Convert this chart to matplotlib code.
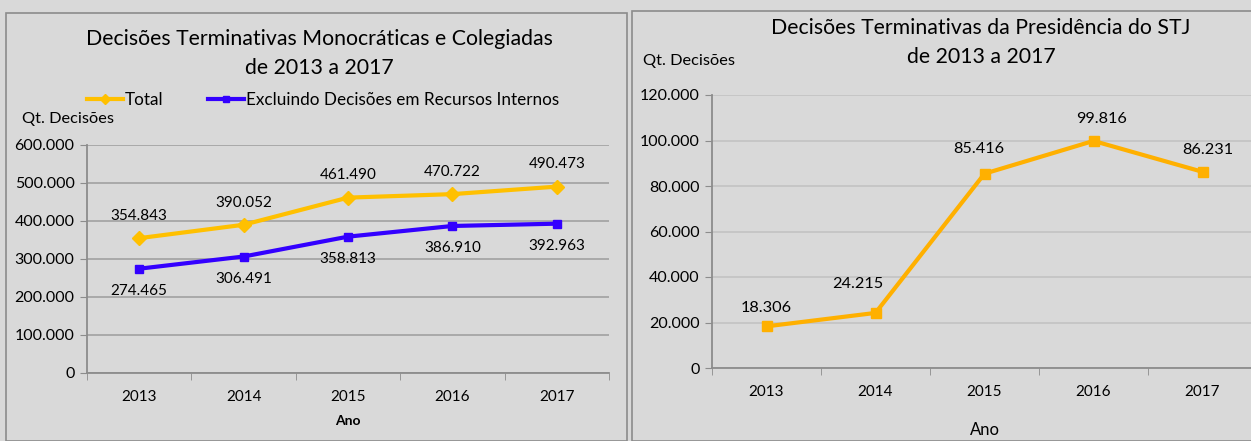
import matplotlib
matplotlib.use('Agg')
from matplotlib import pyplot as plt
from matplotlib.patches import Rectangle
from matplotlib.ticker import FuncFormatter

plt.rcParams['font.family'] = ['Lato', 'DejaVu Sans']

anos = ['2013', '2014', '2015', '2016', '2017']
total = [354843, 390052, 461490, 470722, 490473]
excluindo = [274465, 306491, 358813, 386910, 392963]
presidencia = [18306, 24215, 85416, 99816, 86231]

W, H = 1251, 441
bg = '#d9d9d9'
fig = plt.figure(figsize=(W / 100, H / 100), dpi=100, facecolor=bg)


def fmt(v, pos=None):
    return f'{int(v):,}'.replace(',', '.')


def px(x0, y0, x1, y1):
    # pixel box -> figure fraction [left, bottom, width, height]
    return [x0 / W, 1 - y1 / H, (x1 - x0) / W, (y1 - y0) / H]


# molduras dos dois paineis
fig.patches.append(Rectangle((6 / W, 0), (627 - 6) / W, 1 - 13 / H, transform=fig.transFigure,
                             fill=False, edgecolor='#8c8c8c', lw=1.2))
fig.patches.append(Rectangle((632 / W, 0), (1260 - 632) / W, 1 - 11 / H, transform=fig.transFigure,
                             fill=False, edgecolor='#8c8c8c', lw=1.2))


def estilo(ax, ymax, step, grid_color):
    ax.set_facecolor(bg)
    x = range(len(anos))
    ax.set_xlim(-0.5, len(anos) - 0.5)
    ax.set_ylim(0, ymax)
    ax.set_yticks(range(0, ymax + 1, step))
    ax.yaxis.set_major_formatter(FuncFormatter(fmt))
    ax.set_xticks(list(x))
    ax.set_xticklabels(anos)
    ax.set_xticks([i - 0.5 for i in range(len(anos) + 1)], minor=True)
    ax.tick_params(axis='x', which='major', length=0, pad=12, labelsize=11)
    ax.tick_params(axis='x', which='minor', length=5, color='#8c8c8c', direction='out')
    ax.tick_params(axis='y', length=5, color='#8c8c8c', labelsize=11.5, pad=4)
    ax.grid(axis='y', color=grid_color, lw=1.3)
    ax.set_axisbelow(True)
    for s in ['top', 'right']:
        ax.spines[s].set_visible(False)
    for s in ['left', 'bottom']:
        ax.spines[s].set_color('#8c8c8c')
        ax.spines[s].set_linewidth(1.3)


# painel esquerdo
ax1 = fig.add_axes(px(87, 145, 609, 373))
estilo(ax1, 600000, 100000, '#a6a6a6')
x = range(len(anos))
ax1.plot(x, total, color='#ffc000', lw=3, marker='D', ms=7, label='Total', clip_on=False)
ax1.plot(x, excluindo, color='#3300ff', lw=3, marker='s', ms=6,
         label='Excluindo Decisões em Recursos Internos', clip_on=False)
for i in x:
    ax1.annotate(fmt(total[i]), (i, total[i]), xytext=(0, 16), textcoords='offset points',
                 ha='center', va='center', fontsize=11)
    ax1.annotate(fmt(excluindo[i]), (i, excluindo[i]), xytext=(0, -16), textcoords='offset points',
                 ha='center', va='center', fontsize=11)
ax1.set_xlabel('Ano', fontsize=10, fontweight='bold', labelpad=8)
fig.text(319 / W, 1 - 39 / H, 'Decisões Terminativas Monocráticas e Colegiadas', ha='center',
         va='center', fontsize=15.3)
fig.text(319 / W, 1 - 68 / H, 'de 2013 a 2017', ha='center', va='center', fontsize=15.3)
fig.text(22 / W, 1 - 119 / H, 'Qt. Decisões', ha='left', va='center', fontsize=11.8)
fig.legend(handles=ax1.get_lines(), loc='center', bbox_to_anchor=(323 / W, 1 - 100 / H),
           ncol=2, frameon=False, fontsize=12.3, handlelength=2.1, handletextpad=0.1,
           columnspacing=2.6, markerscale=0.8)

# painel direito
ax2 = fig.add_axes(px(712, 95, 1257, 368))
estilo(ax2, 120000, 20000, '#c4c4c4')
ax2.plot(x, presidencia, color='#ffb000', lw=3, marker='s', ms=7, clip_on=False)
offs = [(0, 13), (-13, 21), (-4, 18), (6, 16), (4, 16)]
for i in x:
    ax2.annotate(fmt(presidencia[i]), (i, presidencia[i]), xytext=offs[i], textcoords='offset points',
                 ha='center', va='center', fontsize=11.7)
ax2.set_xlabel('Ano', fontsize=12, labelpad=17)
fig.text(981 / W, 1 - 28 / H, 'Decisões Terminativas da Presidência do STJ', ha='center',
         va='center', fontsize=15.3)
fig.text(981 / W, 1 - 57 / H, 'de 2013 a 2017', ha='center', va='center', fontsize=15.3)
fig.text(643 / W, 1 - 61 / H, 'Qt. Decisões', ha='left', va='center', fontsize=11.8)

fig.savefig('out.png', dpi=100, facecolor=bg)
